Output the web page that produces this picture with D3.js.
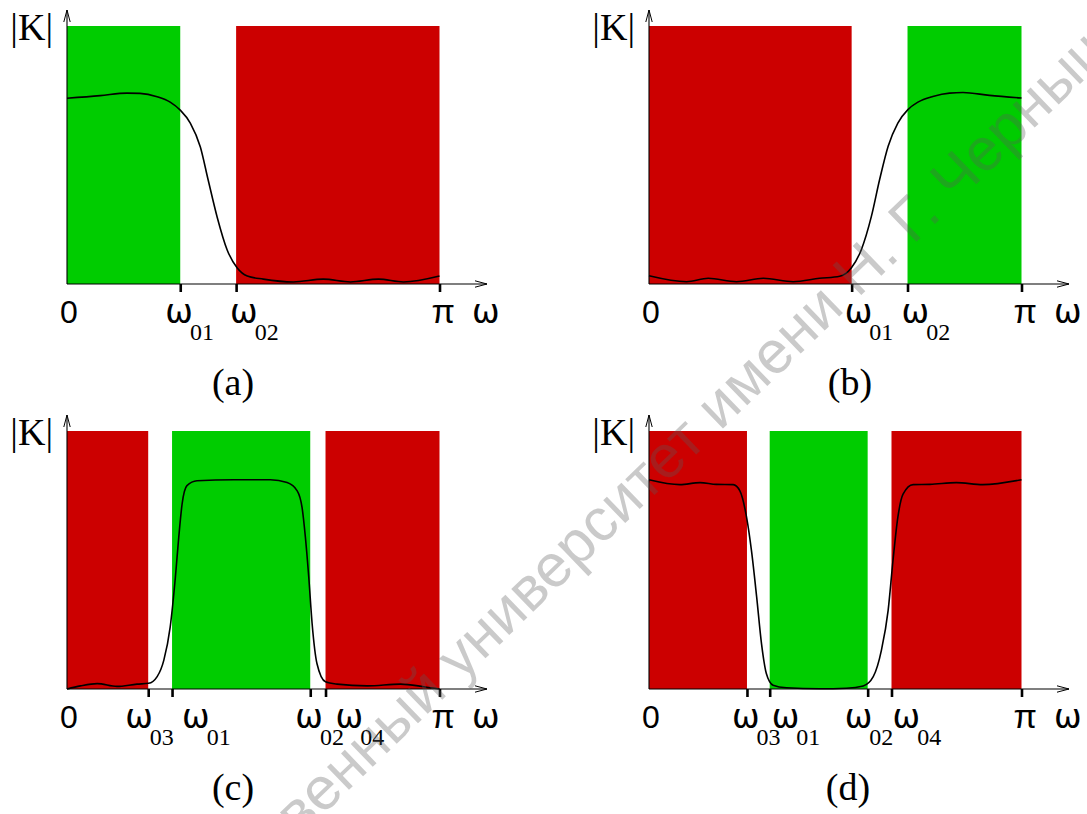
<!DOCTYPE html>
<html>
<head>
<meta charset="utf-8">
<script src="https://cdn.jsdelivr.net/npm/d3@7"></script>
<style>
  html, body { margin: 0; padding: 0; background: #fff; }
  svg { display: block; }
</style>
</head>
<body>
<svg id="chart" width="1087" height="814"></svg>
<script>
// frequencies are in units of pi, |K| normalised to the band height
const curveA = [[0,0.72],[0.089,0.73],[0.161,0.74],[0.196,0.739],[0.242,0.726],[0.277,0.705],[0.304,0.674],
  [0.331,0.624],[0.358,0.531],[0.379,0.403],[0.403,0.26],[0.430,0.132],[0.457,0.062],[0.484,0.031],
  [0.527,0.019],[0.608,0.008],[0.688,0.019],[0.761,0.008],[0.836,0.019],[0.903,0.008],[1,0.031]];
const curveB = [[0,0.032],[0.101,0.009],[0.159,0.022],[0.235,0.009],[0.307,0.022],[0.387,0.009],[0.458,0.022],
  [0.512,0.03],[0.543,0.062],[0.570,0.133],[0.597,0.262],[0.619,0.404],[0.642,0.534],[0.668,0.624],
  [0.695,0.676],[0.722,0.705],[0.762,0.727],[0.807,0.74],[0.843,0.742],[0.914,0.731],[1,0.721]];
const curveC = [[0,0],[0.036,0.012],[0.081,0.021],[0.134,0.010],[0.188,0.019],[0.219,0.022],[0.242,0.048],
  [0.260,0.112],[0.277,0.24],[0.291,0.434],[0.300,0.588],[0.309,0.717],[0.322,0.788],[0.349,0.807],
  [0.448,0.811],[0.546,0.811],[0.591,0.80],[0.618,0.768],[0.631,0.704],[0.640,0.588],[0.649,0.434],
  [0.658,0.254],[0.671,0.099],[0.694,0.028],[0.725,0.019],[0.806,0.012],[0.895,0.019],[0.958,0.009],[1,0]];
const curveD = [[0,0.811],[0.083,0.792],[0.137,0.80],[0.181,0.793],[0.226,0.792],[0.244,0.768],[0.262,0.665],
  [0.275,0.537],[0.289,0.357],[0.302,0.176],[0.315,0.06],[0.333,0.015],[0.369,0.005],[0.458,0.001],
  [0.530,0.003],[0.575,0.012],[0.602,0.048],[0.624,0.151],[0.642,0.305],[0.655,0.498],[0.668,0.665],
  [0.682,0.755],[0.709,0.792],[0.754,0.793],[0.825,0.80],[0.896,0.792],[1,0.811]];

// pass (green) and stop (red) bands: [from, to, kind]
const bandsA = [[0, 0.304, "pass"], [0.454, 1, "stop"]];
const bandsB = [[0, 0.544, "stop"], [0.694, 1, "pass"]];
const bandsC = [[0, 0.218, "stop"], [0.282, 0.653, "pass"], [0.694, 1, "stop"]];
const bandsD = [[0, 0.263, "stop"], [0.324, 0.587, "pass"], [0.651, 1, "stop"]];

// tick positions and their subscripts
const ticksA = [[0.304, "01"], [0.454, "02"]];
const ticksB = [[0.544, "01"], [0.694, "02"]];
const ticksC = [[0.218, "03"], [0.282, "01"], [0.653, "02"], [0.694, "04"]];
const ticksD = [[0.263, "03"], [0.324, "01"], [0.587, "02"], [0.651, "04"]];

const captions = ["(a)", "(b)", "(c)", "(d)"];

const GREEN = "#00cc00";
const RED = "#cc0000";
const PLOT_W = 372.5;
const PLOT_H = 258;

// layout: left of y axis, y of x axis, label offsets from tick, caption offset
const panels = [
  { x0: 67, axisY: 284, curve: curveA, bands: bandsA, ticks: ticksA, labelDx: [-15, -6], capDx: 166 },
  { x0: 649, axisY: 284, curve: curveB, bands: bandsB, ticks: ticksB, labelDx: [-7, -6], capDx: 201 },
  { x0: 67, axisY: 689, curve: curveC, bands: bandsC, ticks: ticksC, labelDx: [-23, 10, -15, 10], capDx: 166 },
  { x0: 649, axisY: 689, curve: curveD, bands: bandsD, ticks: ticksD, labelDx: [-15, 2, -23, 1], capDx: 199 }
];

const svg = d3.select("#chart");

const defs = svg.append("defs");
defs.append("marker")
    .attr("id", "arrow")
    .attr("viewBox", "0 0 12 8")
    .attr("refX", 12)
    .attr("refY", 4)
    .attr("markerWidth", 12)
    .attr("markerHeight", 8)
    .attr("markerUnits", "userSpaceOnUse")
    .attr("orient", "auto")
  .append("path")
    .attr("d", "M0,0.8 L12,4 L0,7.2")
    .attr("fill", "none")
    .attr("stroke", "#000")
    .attr("stroke-width", 1);

const sans = "'Liberation Sans', Arial, sans-serif";
const greek = "'DejaVu Sans', 'Liberation Sans', sans-serif";
const serif = "'Liberation Serif', 'Times New Roman', serif";

panels.forEach((p, i) => {
    const g = svg.append("g").attr("class", "panel");
    const x = d3.scaleLinear().domain([0, 1]).range([p.x0, p.x0 + PLOT_W]);
    const y = d3.scaleLinear().domain([0, 1]).range([p.axisY, p.axisY - PLOT_H]);

    g.selectAll("rect.band")
        .data(p.bands)
        .enter().append("rect")
        .attr("class", "band")
        .attr("x", d => x(d[0]))
        .attr("y", y(1))
        .attr("width", d => x(d[1]) - x(d[0]))
        .attr("height", y(0) - y(1))
        .attr("fill", d => d[2] === "pass" ? GREEN : RED);

    // ticks at band edges and at pi
    const tickVals = p.ticks.map(t => t[0]).concat([1]);
    const axis = d3.axisBottom(x).tickValues(tickVals).tickSize(8).tickFormat("");
    const ax = g.append("g").attr("transform", `translate(0,${p.axisY})`).call(axis);
    ax.select(".domain").remove();
    ax.selectAll(".tick line").attr("stroke", "#000").attr("stroke-width", 2.6);

    // axes with arrows
    g.append("line")
        .attr("x1", x(0)).attr("y1", p.axisY)
        .attr("x2", x(0) + 420).attr("y2", p.axisY)
        .attr("stroke", "#000").attr("stroke-width", 1.1)
        .attr("marker-end", "url(#arrow)");
    g.append("line")
        .attr("x1", x(0)).attr("y1", p.axisY)
        .attr("x2", x(0)).attr("y2", p.axisY - 274)
        .attr("stroke", "#000").attr("stroke-width", 1.1)
        .attr("marker-end", "url(#arrow)");

    const line = d3.line()
        .x(d => x(d[0]))
        .y(d => y(d[1]))
        .curve(d3.curveMonotoneX);
    g.append("path")
        .datum(p.curve)
        .attr("d", line)
        .attr("fill", "none")
        .attr("stroke", "#000")
        .attr("stroke-width", 1.6);

    g.append("text")
        .attr("x", x(0) - 7).attr("y", p.axisY + 39)
        .attr("font-family", sans).attr("font-size", 32)
        .text("0");
    g.append("text")
        .attr("x", x(1) - 8).attr("y", p.axisY + 39)
        .attr("font-family", sans).attr("font-size", 34)
        .text("π");
    g.append("text")
        .attr("x", x(0) + 405).attr("y", p.axisY + 39)
        .attr("font-family", greek).attr("font-size", 33)
        .text("ω");

    p.ticks.forEach((t, k) => {
        const lab = g.append("text")
            .attr("x", x(t[0]) + p.labelDx[k]).attr("y", p.axisY + 39);
        lab.append("tspan")
            .attr("font-family", greek).attr("font-size", 33)
            .text("ω");
        lab.append("tspan")
            .attr("font-family", serif).attr("font-size", 24)
            .attr("dx", -3)
            .attr("dy", 17)
            .text(t[1]);
    });

    g.append("text")
        .attr("x", x(0) - 14).attr("y", y(1) + 14)
        .attr("text-anchor", "end")
        .attr("font-family", serif).attr("font-size", 38)
        .text("|K|");

    g.append("text")
        .attr("x", x(0) + p.capDx).attr("y", p.axisY + 111)
        .attr("text-anchor", "middle")
        .attr("font-family", serif).attr("font-size", 38)
        .text(captions[i]);
});

// diagonal watermark
const wm = svg.append("g")
    .attr("transform", "translate(322,816) rotate(-44)")
    .attr("font-family", sans)
    .attr("font-size", 60)
    .attr("fill", "#5a5a5a")
    .attr("fill-opacity", 0.32);
wm.append("text").attr("text-anchor", "end").text("Саратовский государств");
wm.append("text").attr("text-anchor", "start").text("енный университет имени Н. Г. Чернышевского");
</script>
</body>
</html>
